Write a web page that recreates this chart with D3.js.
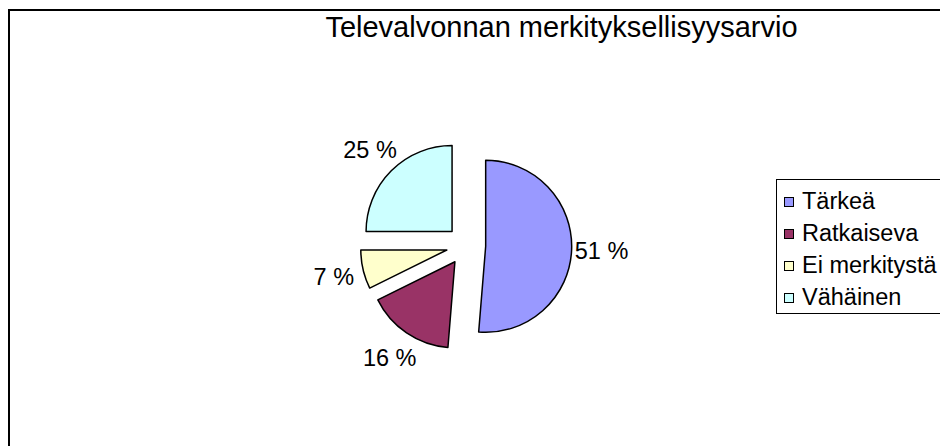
<!DOCTYPE html>
<html>
<head>
<meta charset="utf-8">
<script src="https://cdn.jsdelivr.net/npm/d3@7"></script>
<style>
  html, body { margin: 0; padding: 0; background: #fff; }
  svg { display: block; font-family: "Liberation Sans", Arial, sans-serif; }
</style>
</head>
<body>
<div id="chart"></div>
<script>
const title = "Televalvonnan merkityksellisyysarvio";
const categories = ["Tärkeä", "Ratkaiseva", "Ei merkitystä", "Vähäinen"];
const values = [51.3, 16.4, 7.3, 25.0];
const colors = ["#9999ff", "#993366", "#ffffcc", "#ccffff"];

const width = 940, height = 446;

const svg = d3.select("#chart").append("svg")
  .attr("width", width)
  .attr("height", height);

// chart frame (runs off right and bottom)
svg.append("rect")
  .attr("x", 9).attr("y", 10)
  .attr("width", 1000).attr("height", 1000)
  .attr("fill", "#fff")
  .attr("stroke", "#000")
  .attr("stroke-width", 2);

svg.append("text")
  .attr("x", 561.5).attr("y", 37)
  .attr("text-anchor", "middle")
  .attr("font-size", 29)
  .text(title);

const color = d3.scaleOrdinal().domain(categories).range(colors);

const cx = 466, cy = 245.5, r = 86, explode = 19.7, labelR = 116;

const pie = d3.pie().sort(null).value(d => d.value).startAngle(0).endAngle(2 * Math.PI);
const arcs = pie(categories.map((c, i) => ({name: c, value: values[i]})));
const total = d3.sum(values);

const arc = d3.arc().innerRadius(0).outerRadius(r);

const offset = d => {
  const a = (d.startAngle + d.endAngle) / 2;
  return [Math.sin(a) * explode, -Math.cos(a) * explode];
};

const g = svg.append("g").attr("transform", `translate(${cx},${cy})`);

g.selectAll("path")
  .data(arcs)
  .join("path")
  .attr("transform", d => `translate(${offset(d)})`)
  .attr("d", arc)
  .attr("fill", d => color(d.data.name))
  .attr("stroke", "#000")
  .attr("stroke-width", 1.5)
  .attr("stroke-linejoin", "round");

g.selectAll("text.lbl")
  .data(arcs)
  .join("text")
  .attr("class", "lbl")
  .attr("x", d => offset(d)[0] + Math.sin((d.startAngle + d.endAngle) / 2) * labelR)
  .attr("y", d => offset(d)[1] - Math.cos((d.startAngle + d.endAngle) / 2) * labelR)
  .attr("text-anchor", "middle")
  .attr("dy", "0.35em")
  .attr("font-size", 23.5)
  .text(d => Math.round(d.data.value / total * 100) + " %");

// legend
const legend = svg.append("g");
legend.append("rect")
  .attr("x", 776.5).attr("y", 179.5)
  .attr("width", 200).attr("height", 134)
  .attr("fill", "#fff")
  .attr("stroke", "#000")
  .attr("stroke-width", 1);

const ly = d3.scalePoint().domain(categories).range([201, 297]);

const item = legend.selectAll("g.item")
  .data(categories)
  .join("g")
  .attr("class", "item")
  .attr("transform", d => `translate(0,${ly(d)})`);

item.append("rect")
  .attr("x", 784.5).attr("y", -3.5)
  .attr("width", 9).attr("height", 9)
  .attr("fill", d => color(d))
  .attr("stroke", "#000")
  .attr("stroke-width", 1);

item.append("text")
  .attr("x", 802).attr("y", 8)
  .attr("font-size", 23.5)
  .text(d => d);
</script>
</body>
</html>
